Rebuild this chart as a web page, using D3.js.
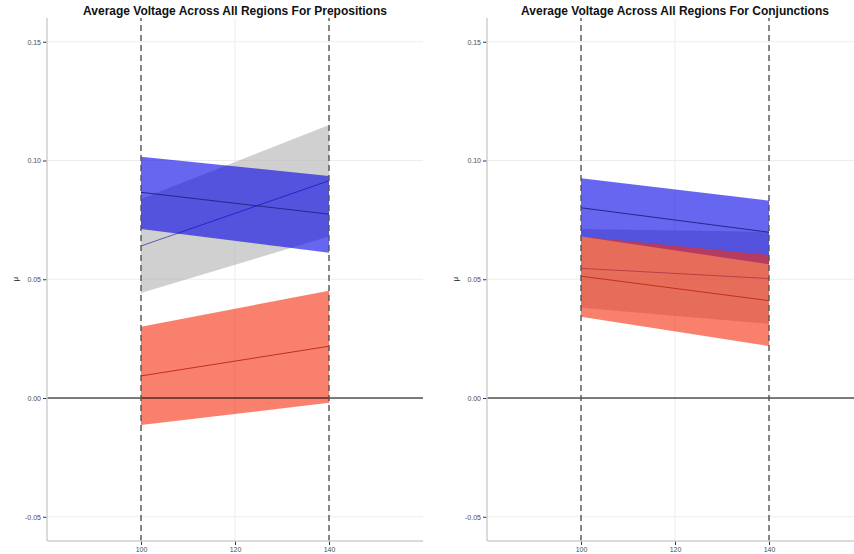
<!DOCTYPE html>
<html>
<head>
<meta charset="utf-8">
<script src="https://cdn.jsdelivr.net/npm/d3@7"></script>
<style>
  body { margin: 0; background: #fff; }
  svg { display: block; font-family: "Liberation Sans", Arial, sans-serif; }
</style>
</head>
<body>
<svg id="chart" width="854" height="554"></svg>
<script>
// ---- data ----
const timePoints = [100, 140];
const xTickValues = [100, 120, 140];
const yTickValues = [-0.05, 0.00, 0.05, 0.10, 0.15];
const xDomain = [80, 160];
const yDomain = [-0.0602, 0.160];
const markerLines = [100, 140];

const panelTitles = [
  "Average Voltage Across All Regions For Prepositions",
  "Average Voltage Across All Regions For Conjunctions"
];

// Prepositions
const prepGreyMean = [0.0640, 0.0915];
const prepGreyLow  = [0.0442, 0.0680];
const prepGreyHigh = [0.0838, 0.1150];
const prepBlueMean = [0.0866, 0.0774];
const prepBlueLow  = [0.0712, 0.0612];
const prepBlueHigh = [0.1016, 0.0935];
const prepRedMean  = [0.0093, 0.0218];
const prepRedLow   = [-0.0114, -0.0020];
const prepRedHigh  = [0.0300, 0.0452];

// Conjunctions
const conjGreyMean = [0.0546, 0.0503];
const conjGreyLow  = [0.0380, 0.0312];
const conjGreyHigh = [0.0712, 0.0700];
const conjBlueMean = [0.0801, 0.0698];
const conjBlueLow  = [0.0680, 0.0563];
const conjBlueHigh = [0.0925, 0.0831];
const conjRedMean  = [0.0513, 0.0410];
const conjRedLow   = [0.0342, 0.0219];
const conjRedHigh  = [0.0680, 0.0602];

const seriesStyle = {
  grey: { fill: "rgb(177,177,177)", line: "#5c5ca6" },
  blue: { fill: "rgb(0,0,230)",     line: "#26268a" },
  red:  { fill: "rgb(247,43,13)",   line: "#c0301c" }
};

function buildSeries(name, mean, low, high) {
  return { name, points: timePoints.map((t, i) => ({ x: t, m: mean[i], lo: low[i], hi: high[i] })) };
}

const panels = [
  { title: panelTitles[0], left: 47, series: [
      buildSeries("grey", prepGreyMean, prepGreyLow, prepGreyHigh),
      buildSeries("blue", prepBlueMean, prepBlueLow, prepBlueHigh),
      buildSeries("red",  prepRedMean,  prepRedLow,  prepRedHigh) ] },
  { title: panelTitles[1], left: 487, series: [
      buildSeries("grey", conjGreyMean, conjGreyLow, conjGreyHigh),
      buildSeries("blue", conjBlueMean, conjBlueLow, conjBlueHigh),
      buildSeries("red",  conjRedMean,  conjRedLow,  conjRedHigh) ] }
];

const svg = d3.select("#chart");
const plotTop = 18, plotBottom = 541, panelW = 376;

panels.forEach(p => {
  const x = d3.scaleLinear().domain(xDomain).range([p.left, p.left + panelW]);
  const y = d3.scaleLinear().domain(yDomain).range([plotBottom, plotTop]);
  const g = svg.append("g");

  // gridlines
  g.selectAll(".hg").data(yTickValues).join("line")
    .attr("x1", x(xDomain[0])).attr("x2", x(xDomain[1]))
    .attr("y1", d => y(d)).attr("y2", d => y(d))
    .attr("stroke", "#ededed").attr("stroke-width", 1);
  g.selectAll(".vg").data(xTickValues).join("line")
    .attr("x1", d => x(d)).attr("x2", d => x(d))
    .attr("y1", y(yDomain[0])).attr("y2", y(yDomain[1]))
    .attr("stroke", "#ededed").attr("stroke-width", 1);

  // ribbons and mean lines
  const area = d3.area().x(d => x(d.x)).y0(d => y(d.lo)).y1(d => y(d.hi));
  const line = d3.line().x(d => x(d.x)).y(d => y(d.m));
  p.series.forEach(s => {
    g.append("path").datum(s.points).attr("d", area)
      .attr("fill", seriesStyle[s.name].fill).attr("fill-opacity", 0.6);
    g.append("path").datum(s.points).attr("d", line)
      .attr("fill", "none").attr("stroke", seriesStyle[s.name].line).attr("stroke-width", 1);
  });

  // zero line
  g.append("line")
    .attr("x1", x(xDomain[0])).attr("x2", x(xDomain[1]))
    .attr("y1", y(0)).attr("y2", y(0))
    .attr("stroke", "#000").attr("stroke-width", 1);

  // dashed markers
  g.selectAll(".mk").data(markerLines).join("line")
    .attr("x1", d => x(d)).attr("x2", d => x(d))
    .attr("y1", y(yDomain[0])).attr("y2", y(yDomain[1]))
    .attr("stroke", "#555").attr("stroke-width", 1.4).attr("stroke-dasharray", "6,4");

  // axes
  const yAxis = d3.axisLeft(y).tickValues(yTickValues).tickFormat(d3.format(".2f")).tickSize(4).tickPadding(2);
  const ya = g.append("g").attr("transform", `translate(${p.left},0)`).call(yAxis);
  const xAxis = d3.axisBottom(x).tickValues(xTickValues).tickFormat(d3.format("d")).tickSize(4).tickPadding(2);
  const xa = g.append("g").attr("transform", `translate(0,${plotBottom})`).call(xAxis);
  [ya, xa].forEach(a => {
    a.select(".domain").remove();
    a.selectAll(".tick line").attr("stroke", "#333").attr("stroke-width", 1);
    a.selectAll(".tick text").attr("fill", "#4d4d4d").style("font-size", "7px");
  });
  ya.selectAll(".tick text").text(d => d < 0 ? "-" + d3.format(".2f")(-d) : d3.format(".2f")(d));

  // axis lines
  g.append("line").attr("x1", p.left).attr("x2", p.left).attr("y1", plotTop).attr("y2", plotBottom)
    .attr("stroke", "#cfcfcf").attr("stroke-width", 1.5);
  g.append("line").attr("x1", p.left).attr("x2", p.left + panelW).attr("y1", plotBottom).attr("y2", plotBottom)
    .attr("stroke", "#cfcfcf").attr("stroke-width", 1.5);

  // y label
  g.append("text").attr("transform", `translate(${p.left - 29},${y(0.05)}) rotate(-90)`)
    .attr("text-anchor", "middle").style("font-size", "8px").attr("fill", "#222").text("μ");

  // title
  g.append("text").attr("x", p.left + panelW / 2).attr("y", 15)
    .attr("text-anchor", "middle").style("font-size", "12px").style("font-weight", "bold")
    .attr("fill", "#111").text(p.title);
});
</script>
</body>
</html>
